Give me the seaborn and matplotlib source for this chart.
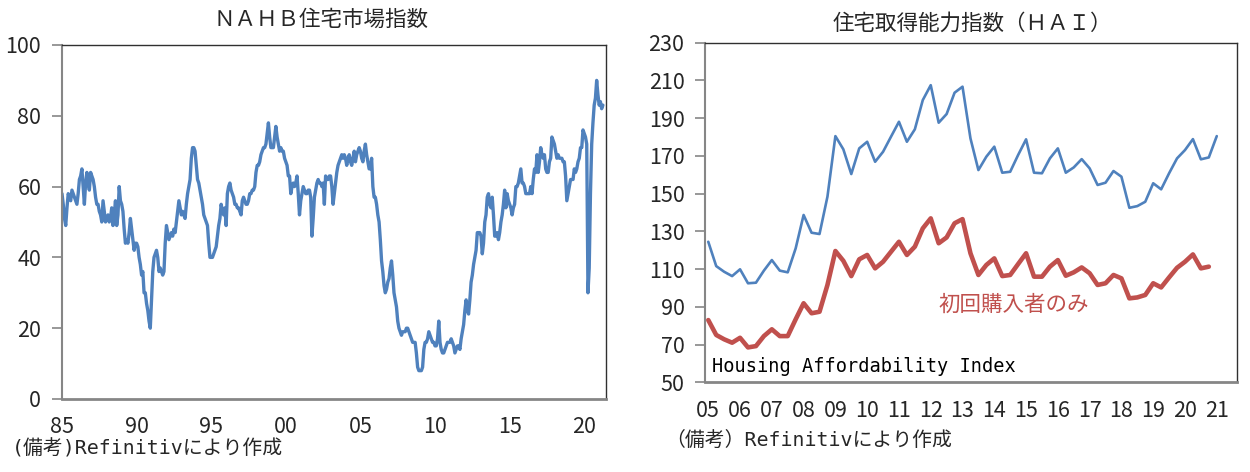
import numpy as np
import pandas as pd
import matplotlib
matplotlib.use("Agg")
import matplotlib.pyplot as plt
import seaborn as sns

# NAHB housing market index, monthly Jan 1985 - Apr 2021
nahb_index = [
    58, 55, 51, 49, 54, 58, 57, 56, 59, 58, 57, 56,   # 1985
    55, 58, 62, 63, 65, 60, 55, 61, 64, 61, 59, 64,   # 1986
    63, 62, 60, 57, 55, 55, 53, 52, 50, 56, 53, 50,   # 1987
    51, 52, 50, 51, 54, 49, 52, 56, 49, 52, 60, 56,   # 1988
    55, 53, 48, 44, 45, 44, 47, 51, 48, 45, 42, 44,   # 1989
    44, 43, 40, 38, 35, 36, 30, 30, 27, 25, 22, 20,   # 1990
    28, 36, 40, 41, 42, 40, 36, 37, 36, 35, 36, 44,   # 1991
    49, 47, 45, 46, 47, 46, 48, 47, 50, 53, 56, 54,   # 1992
    52, 53, 52, 51, 55, 58, 60, 62, 68, 71, 71, 70,   # 1993
    66, 62, 61, 59, 57, 55, 52, 51, 50, 49, 44, 40,   # 1994
    40, 40, 41, 42, 43, 46, 49, 51, 55, 53, 52, 54,   # 1995
    49, 58, 60, 61, 59, 58, 57, 55, 55, 54, 54, 53,   # 1996
    52, 56, 57, 56, 55, 55, 56, 58, 58, 59, 59, 60,   # 1997
    64, 66, 66, 67, 69, 70, 71, 71, 72, 75, 78, 74,   # 1998
    71, 71, 71, 74, 77, 74, 72, 70, 71, 70, 70, 68,   # 1999
    67, 66, 63, 63, 58, 60, 61, 60, 61, 63, 58, 52,   # 2000
    56, 58, 60, 59, 58, 58, 59, 59, 57, 46, 51, 57,   # 2001
    59, 61, 62, 61, 61, 60, 61, 55, 63, 62, 62, 63,   # 2002
    63, 60, 55, 58, 61, 64, 66, 67, 68, 69, 68, 69,   # 2003
    68, 66, 68, 69, 67, 66, 68, 70, 67, 69, 70, 71,   # 2004
    70, 68, 67, 70, 72, 69, 67, 65, 65, 68, 60, 57,   # 2005
    57, 55, 52, 50, 45, 39, 36, 32, 30, 31, 33, 34,   # 2006
    37, 39, 35, 30, 28, 26, 22, 20, 19, 18, 19, 19,   # 2007
    19, 20, 20, 19, 18, 17, 16, 16, 16, 13, 9, 8,     # 2008
    8, 8, 9, 14, 16, 16, 17, 19, 18, 17, 16, 16,      # 2009
    15, 15, 17, 22, 16, 14, 13, 13, 14, 15, 16, 16,   # 2010
    16, 17, 16, 15, 13, 14, 15, 15, 14, 17, 19, 21,   # 2011
    25, 28, 25, 24, 28, 33, 35, 38, 40, 42, 47, 47,   # 2012
    47, 46, 41, 44, 50, 52, 57, 58, 55, 54, 57, 52,   # 2013
    46, 46, 47, 45, 47, 50, 52, 55, 59, 54, 58, 56,   # 2014
    55, 54, 52, 54, 55, 60, 60, 61, 63, 65, 61, 61,   # 2015
    60, 58, 58, 58, 58, 60, 58, 62, 65, 64, 69, 64,   # 2016
    67, 71, 69, 68, 69, 65, 64, 64, 67, 68, 74, 73,   # 2017
    72, 70, 68, 69, 68, 68, 68, 67, 67, 63, 56, 58,   # 2018
    60, 62, 62, 62, 65, 64, 65, 67, 68, 71, 71, 76,   # 2019
    75, 74, 72, 30, 37, 58, 72, 78, 83, 85, 90, 86,   # 2020
    83, 84, 82, 83,                                   # 2021
]
nahb_ticks = ["85", "90", "95", "00", "05", "10", "15", "20"]

# Housing Affordability Index, quarterly 2005Q1 -
hai_all = [
    124.5, 111.6, 108.6, 106.3, 109.9, 102.5, 102.8, 109.2,
    114.8, 109.2, 108.3, 121.0, 138.7, 129.3, 128.6, 148.4,
    180.5, 173.5, 160.4, 174.0, 177.5, 166.9, 172.2, 180.2,
    188.1, 177.5, 184.1, 199.6, 207.5, 187.6, 192.2, 203.5,
    206.7, 179.3, 162.5, 169.6, 174.9, 161.1, 161.6, 170.5,
    178.8, 161.1, 160.8, 168.7, 174.0, 161.1, 163.9, 168.3,
    163.4, 154.6, 155.8, 162.0, 159.0, 142.5, 143.4, 145.7,
    155.5, 152.3, 160.8, 168.7, 173.1, 178.9, 168.2, 169.2,
    180.5,
]
hai_first = [
    83.0, 75.1, 72.8, 71.0, 73.6, 68.5, 69.2, 74.5,
    78.1, 74.5, 74.5, 83.4, 91.9, 86.6, 87.4, 101.6,
    119.6, 114.4, 106.3, 115.2, 117.5, 110.4, 113.9, 119.2,
    124.5, 117.5, 121.9, 131.6, 136.9, 123.7, 126.8, 134.3,
    136.5, 118.4, 106.9, 112.2, 115.7, 106.3, 106.9, 112.7,
    118.4, 106.0, 106.0, 111.3, 114.8, 106.5, 108.3, 110.9,
    107.8, 101.6, 102.5, 106.9, 105.1, 94.5, 95.0, 96.3,
    102.5, 100.3, 105.6, 110.7, 113.9, 117.8, 110.4, 111.3,
]
hai_ticks = ["05", "06", "07", "08", "09", "10", "11", "12", "13",
             "14", "15", "16", "17", "18", "19", "20", "21"]

blue = "#4F81BD"
red = "#C0504D"

sns.set_style("white")
plt.rcParams['font.family'] = ['DejaVu Sans Mono', 'Noto Sans CJK JP', 'DejaVu Sans']
cjk = ['Noto Sans CJK JP', 'DejaVu Sans']

df_nahb = pd.DataFrame({"i": np.arange(len(nahb_index)), "v": nahb_index})
df_all = pd.DataFrame({"i": np.arange(len(hai_all)), "v": hai_all})
df_first = pd.DataFrame({"i": np.arange(len(hai_first)), "v": hai_first})

fig = plt.figure(figsize=(12.5, 4.72), dpi=100)
ax1 = fig.add_axes([0.0496, 0.1547, 0.4352, 0.75])
ax2 = fig.add_axes([0.5642, 0.19, 0.4251, 0.7195])

# left: NAHB
sns.lineplot(data=df_nahb, x="i", y="v", ax=ax1, color=blue, linewidth=2.4)
ax1.set_xlim(0, 437.5)
ax1.set_ylim(0, 100)
ax1.set_xticks(np.arange(0, 421, 60))
ax1.set_xticklabels(nahb_ticks)
ax1.set_yticks(np.arange(0, 101, 20))

# right: HAI
sns.lineplot(data=df_all, x="i", y="v", ax=ax2, color=blue, linewidth=1.9)
sns.lineplot(data=df_first, x="i", y="v", ax=ax2, color=red, linewidth=3.3)
ax2.set_xlim(-0.38, 66.5)
ax2.set_ylim(50, 230)
ax2.set_xticks(np.arange(0, 65, 4))
ax2.set_xticklabels(hai_ticks)
ax2.set_yticks(np.arange(50, 231, 20))
ax2.text(0.45, 58.6, "Housing Affordability Index", fontsize=13.4,
         ha="left", va="center", color="black")
ax2.text(38.4, 91, "初回購入者のみ", fontsize=15.5, ha="center", va="center", color=red)

for ax in (ax1, ax2):
    ax.set_xlabel("")
    ax.set_ylabel("")
    ax.spines["left"].set_color("#868686")
    ax.spines["left"].set_linewidth(1.5)
    ax.spines["bottom"].set_color("#868686")
    ax.spines["bottom"].set_linewidth(2)
    ax.spines["top"].set_color("#303030")
    ax.spines["right"].set_color("#303030")
    ax.spines["top"].set_linewidth(1)
    ax.spines["right"].set_linewidth(1)
    ax.tick_params(axis="y", left=True, length=7, width=1.2, color="#868686",
                   direction="out", labelsize=15.5, pad=8)
    ax.tick_params(axis="x", bottom=False, labelsize=15.5, pad=9)
    for lab in ax.get_xticklabels() + ax.get_yticklabels():
        lab.set_fontfamily(cjk)

fig.text(321 / 1250, 1 - 20 / 472, "ＮＡＨＢ住宅市場指数", fontsize=15.5, ha="center", va="center")
fig.text(972 / 1250, 1 - 23 / 472, "住宅取得能力指数（ＨＡＩ）", fontsize=15.5, ha="center", va="center")
fig.text(12 / 1250, 1 - 449 / 472, "(備考)Refinitivにより作成", fontsize=14.3, ha="left", va="center")
fig.text(665 / 1250, 1 - 440 / 472, "（備考）Refinitivにより作成", fontsize=14.3, ha="left", va="center")

fig.savefig("out.png", dpi=100)
